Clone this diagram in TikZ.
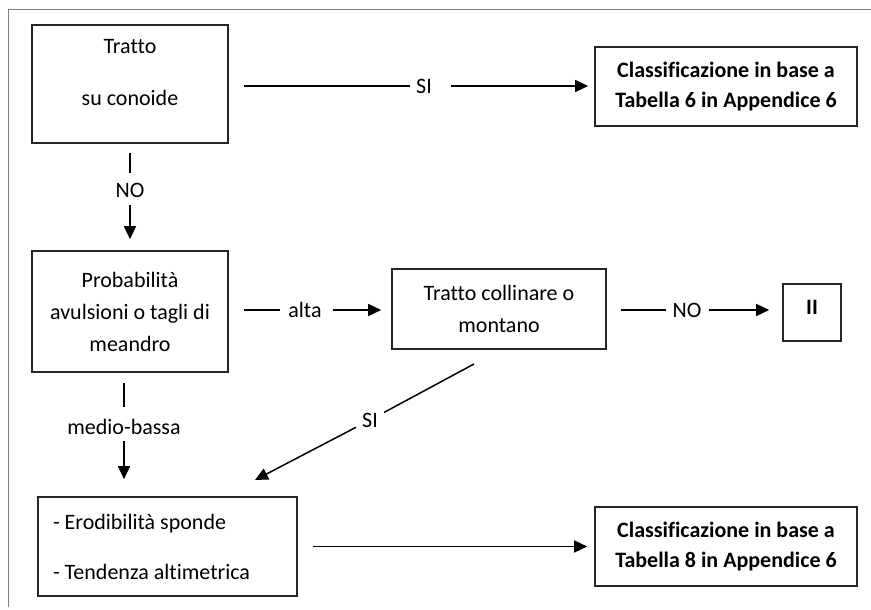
\documentclass[tikz,border=0pt]{standalone}
\usepackage{fontspec}
\setmainfont{Carlito}[Ligatures=NoCommon]
\usetikzlibrary{arrows.meta,positioning,calc}

\begin{document}
\begin{tikzpicture}[x=1pt,y=-1pt,
    every node/.style={font=\fontsize{22pt}{32pt}\selectfont},
    bold/.style={font=\fontsize{22pt}{30pt}\selectfont\bfseries},
    box/.style={draw=black!85,line width=1.6pt,align=center,inner sep=0pt},
    lbl/.style={inner sep=6pt},
    line/.style={line width=1.5pt},
    arr/.style={line,-{Triangle[length=13pt,width=12pt]}}]
  \useasboundingbox (0,0) rectangle (871,610);
  \draw[black!50,line width=1pt] (8,607) -- (8,10) -- (871,10);

  % boxes
  \node[box,minimum width=196pt,minimum height=118pt,text depth=23pt] (conoide) at (130,84) {Tratto\\[20pt]su conoide};
  \node[box,bold,minimum width=262pt,minimum height=79pt] (tab6) at (726,86.5) {Classificazione in base a\\Tabella 6 in Appendice 6};
  \node[box,minimum width=196pt,minimum height=121pt] (prob) at (130,311.5) {Probabilità\\avulsioni o tagli di\\meandro};
  \node[box,minimum width=214pt,minimum height=80pt] (collin) at (499,309) {Tratto collinare o\\montano};
  \node[box,bold,minimum width=58pt,minimum height=57pt,text depth=10pt] (cl2) at (812,312.5) {II};
  \node[box,minimum width=259pt,minimum height=99pt,text width=229pt,align=flush left] (erod) at (167.5,546.5) {- Erodibilità sponde\\[18pt]- Tendenza altimetrica};
  \node[box,bold,minimum width=262pt,minimum height=79pt] (tab8) at (726,546.5) {Classificazione in base a\\Tabella 8 in Appendice 6};

  % labels on the connectors
  \node[lbl] (si1) at (424,86) {SI};
  \node[lbl] (no1) at (130,190) {NO};
  \node[lbl] (alta) at (305,310) {alta};
  \node[lbl] (no2) at (687,310) {NO};
  \node[lbl] (mb) at (124,427) {medio-bassa};
  \node[lbl] (si2) at (370,420) {SI};
  \coordinate (sitop) at (474,364);
  \coordinate (sibot) at (255,480);

  \draw[line,shorten <=15pt] (si1.west -| conoide.east) -- (si1.west);
  \draw[arr,shorten <=13pt,shorten >=6pt] (si1.east) -- (si1.east -| tab6.west);
  \draw[line,shorten <=9pt,shorten >=4pt] (conoide.south) -- (no1.north);
  \draw[arr,shorten <=2pt,shorten >=11pt] (no1.south) -- (prob.north);
  \draw[line,shorten <=15pt,shorten >=2pt] (alta.west -| prob.east) -- (alta.west);
  \draw[arr,shorten <=5pt,shorten >=10pt] (alta.east) -- (alta.east -| collin.west);
  \draw[line,shorten <=14pt] (no2.west -| collin.east) -- (no2.west);
  \draw[arr,shorten <=1pt,shorten >=13pt] (no2.east) -- (no2.east -| cl2.west);
  \draw[line,shorten <=10pt,shorten >=6pt] (mb.north |- prob.south) -- (mb.north);
  \draw[arr,shorten >=17pt] (mb.south) -- (mb.south |- erod.north);
  \draw[line] (sitop) -- (si2);
  \draw[arr] (si2) -- (sibot);
  \draw[arr,shorten <=15pt,shorten >=7pt] (erod) -- (tab8);
\end{tikzpicture}
\end{document}
